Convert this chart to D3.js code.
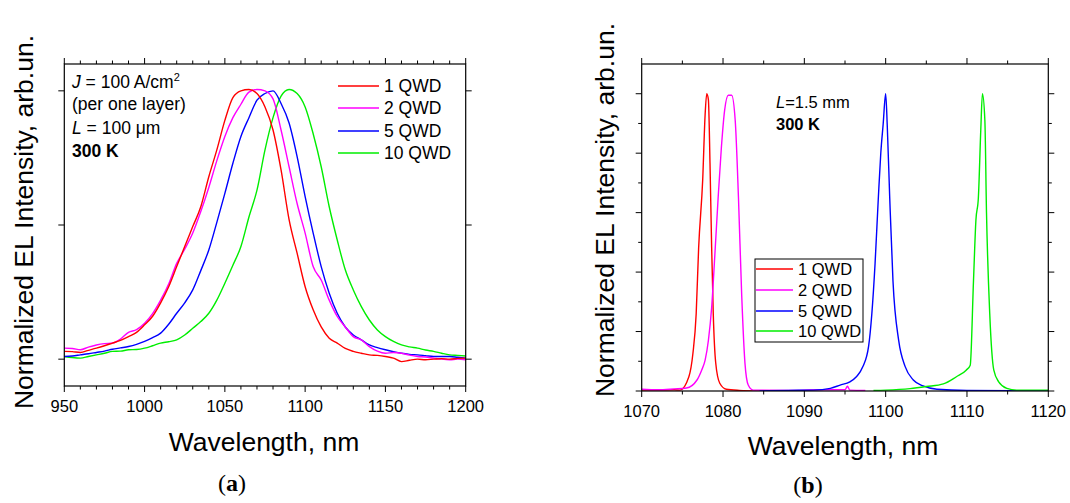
<!DOCTYPE html>
<html><head><meta charset="utf-8">
<script src="https://cdn.jsdelivr.net/npm/d3@7"></script>
<style>
body{margin:0;background:#fff;}
svg{display:block;font-family:"Liberation Sans",Arial,sans-serif;}
</style></head>
<body><svg id="c" width="1070" height="503"></svg>
<script>
// ---------- Panel (a) data (5 nm step) ----------
const aWl      = [950,955,960,965,970,975,980,985,990,995,1000,1005,1010,1015,1020,1025,1030,1035,1040,1045,1050,1055,1060,1065,1070,1075,1080,1085,1090,1095,1100,1105,1110,1115,1120,1125,1130,1135,1140,1145,1150,1155,1160,1165,1170,1175,1180,1185,1190,1195,1200];
const aRed     = [0.029,0.028,0.025,0.033,0.041,0.05,0.06,0.07,0.084,0.10,0.128,0.16,0.21,0.27,0.345,0.42,0.494,0.568,0.68,0.78,0.89,0.975,1.0,1.005,0.99,0.94,0.854,0.705,0.52,0.395,0.27,0.184,0.12,0.078,0.06,0.04,0.029,0.022,0.016,0.014,0.01,0.004,-0.009,-0.004,0.0,-0.002,0.0,0.002,0.0,0.003,0.004];
const aMagenta = [0.041,0.04,0.035,0.045,0.053,0.058,0.06,0.075,0.10,0.11,0.134,0.17,0.22,0.28,0.357,0.41,0.47,0.55,0.64,0.74,0.83,0.90,0.95,0.995,1.005,1.0,0.97,0.854,0.717,0.58,0.47,0.345,0.295,0.22,0.159,0.12,0.084,0.072,0.047,0.03,0.022,0.025,0.022,0.015,0.01,0.008,0.004,0.0,-0.002,0.0,-0.002];
const aBlue    = [0.01,0.012,0.016,0.02,0.025,0.03,0.037,0.042,0.047,0.055,0.066,0.08,0.097,0.13,0.171,0.21,0.258,0.33,0.407,0.51,0.618,0.73,0.83,0.90,0.965,0.99,1.0,0.953,0.88,0.755,0.606,0.47,0.345,0.246,0.171,0.12,0.09,0.072,0.053,0.043,0.035,0.028,0.022,0.018,0.016,0.013,0.01,0.01,0.01,0.007,0.004];
const aGreen   = [0.01,0.006,0.004,0.01,0.016,0.022,0.029,0.03,0.035,0.036,0.041,0.05,0.06,0.065,0.072,0.09,0.115,0.14,0.171,0.22,0.283,0.35,0.42,0.53,0.63,0.78,0.90,0.98,1.005,0.99,0.94,0.84,0.717,0.568,0.444,0.333,0.258,0.196,0.146,0.109,0.084,0.066,0.053,0.046,0.041,0.034,0.029,0.022,0.016,0.014,0.012];
const aXTicks = [950,1000,1050,1100,1150,1200];

// ---------- Panel (b) data ----------
const bRedWl  = [1070,1072,1074,1074.7,1075.8,1076.3,1076.7,1077.0,1077.5,1077.8,1078,1078.2,1078.4,1078.6,1078.8,1079.1,1079.6,1080.4,1082,1084.5];
const bRed    = [0.003,0.003,0.004,0.003,0.048,0.127,0.26,0.48,0.71,0.93,1.0,0.98,0.765,0.485,0.26,0.095,0.026,0.006,0.002,0.0];
const bMagWl  = [1070,1072,1074,1075.5,1076.8,1077.37,1077.8,1078.2,1078.6,1079.0,1079.4,1079.8,1080.2,1080.65,1081.06,1081.5,1081.9,1082.3,1082.7,1083.1,1083.7,1088,1092,1095,1095.3,1095.6,1097.5];
const bMag    = [0.006,0.004,0.007,0.01,0.037,0.07,0.104,0.17,0.28,0.46,0.65,0.82,0.945,0.995,0.995,0.91,0.65,0.32,0.093,0.02,0.003,0.002,0.004,0.004,0.016,0.003,0.002];
const bBlueWl = [1084.5,1088,1091.1,1093.2,1094.4,1095.6,1096.4,1097.2,1097.9,1098.3,1098.7,1099.1,1099.4,1099.7,1100,1100.2,1100.5,1100.9,1101.6,1102.4,1103.4,1104.6,1106.3,1110,1120];
const bBlue   = [0.0,0.002,0.003,0.009,0.02,0.031,0.048,0.082,0.15,0.26,0.43,0.65,0.80,0.90,1.0,0.89,0.65,0.37,0.17,0.082,0.037,0.017,0.006,0.002,0.001];
const bGreenWl= [1098.5,1100,1103,1105.0,1107.1,1108.7,1109.9,1110.4,1110.8,1111.1,1111.4,1111.7,1111.9,1112.2,1112.4,1112.8,1113.3,1113.9,1114.9,1116.1,1120];
const bGreen  = [0.002,0.003,0.008,0.015,0.024,0.048,0.07,0.087,0.37,0.575,0.65,0.88,1.0,0.91,0.6,0.26,0.07,0.031,0.009,0.003,0.003];
const bXTicks = [1070,1080,1090,1100,1110,1120];

const seriesNames = ["1 QWD","2 QWD","5 QWD","10 QWD"];
const colors = ["#ff0000","#ff00ff","#0000ff","#00ee00"];

const svg = d3.select("#c");

function frame(g, x, y, xMajor, xMinorStep, yMajor, yMinor){
  const [x0,x1] = x.range(), [y0,y1] = y.range();
  g.append("rect").attr("x",x0).attr("y",y1).attr("width",x1-x0).attr("height",y0-y1)
    .attr("fill","none").attr("stroke","#000").attr("stroke-width",1.2);
  const dom = x.domain();
  const minors = d3.range(dom[0], dom[1]+1e-9, xMinorStep);
  minors.forEach(v=>{
    const isMaj = xMajor.some(m=>Math.abs(m-v)<1e-6);
    const L = isMaj?6:3.5;
    g.append("line").attr("x1",x(v)).attr("x2",x(v)).attr("y1",y0).attr("y2",y0+L).attr("stroke","#000");
    g.append("line").attr("x1",x(v)).attr("x2",x(v)).attr("y1",y1).attr("y2",y1-L).attr("stroke","#000");
  });
  yMajor.forEach(v=>{
    g.append("line").attr("x1",x0).attr("x2",x0-6).attr("y1",y(v)).attr("y2",y(v)).attr("stroke","#000");
    g.append("line").attr("x1",x1).attr("x2",x1+6).attr("y1",y(v)).attr("y2",y(v)).attr("stroke","#000");
  });
  yMinor.forEach(v=>{
    g.append("line").attr("x1",x0).attr("x2",x0-3.5).attr("y1",y(v)).attr("y2",y(v)).attr("stroke","#000");
    g.append("line").attr("x1",x1).attr("x2",x1+3.5).attr("y1",y(v)).attr("y2",y(v)).attr("stroke","#000");
  });
  xMajor.forEach(v=>{
    g.append("text").attr("x",x(v)).attr("y",y0+26).attr("text-anchor","middle")
      .attr("font-size",16.5).text(v);
  });
}

function lineFor(x,y){ return d3.line().x(d=>x(d[0])).y(d=>y(d[1])).curve(d3.curveMonotoneX); }

// ---------- Panel (a) ----------
{
  const x = d3.scaleLinear().domain([950,1200]).range([64.3,465.7]);
  const y = d3.scaleLinear().domain([-0.1,1.1]).range([386,64]);
  const g = svg.append("g");
  svg.append("clipPath").attr("id","ca").append("rect")
    .attr("x",64.3).attr("y",64).attr("width",465.7-64.3).attr("height",386-64);
  const ln = lineFor(x,y);
  const sets = [aRed,aMagenta,aBlue,aGreen];
  [3,2,1,0].forEach(idx=>{
    g.append("path").attr("clip-path","url(#ca)").attr("d",ln(aWl.map((w,k)=>[w,sets[idx][k]])))
      .attr("fill","none").attr("stroke",colors[idx]).attr("stroke-width",1.4);
  });
  frame(g,x,y,aXTicks,10,[0,0.5,1],[]);
  g.append("text").attr("x",264).attr("y",451).attr("text-anchor","middle").attr("font-size",26.5).text("Wavelength, nm");
  g.append("text").attr("transform","translate(33,222) rotate(-90)").attr("text-anchor","middle").attr("font-size",26.5).text("Normalized EL Intensity, arb.un.");
  const t1 = g.append("text").attr("x",72).attr("y",88).attr("font-size",17.5);
  t1.append("tspan").attr("font-style","italic").text("J");
  t1.append("tspan").text(" = 100 A/cm");
  t1.append("tspan").attr("font-size",11).attr("dy",-7).text("2");
  g.append("text").attr("x",72).attr("y",110).attr("font-size",17.5).text("(per one layer)");
  const t3 = g.append("text").attr("x",72).attr("y",134).attr("font-size",17.5);
  t3.append("tspan").attr("font-style","italic").text("L");
  t3.append("tspan").text(" = 100 \u03bcm");
  g.append("text").attr("x",72).attr("y",157).attr("font-size",17.5).attr("font-weight","bold").text("300 K");
  const rows=[86,108,131,153];
  seriesNames.forEach((n,i)=>{
    g.append("line").attr("x1",338).attr("x2",379).attr("y1",rows[i]).attr("y2",rows[i]).attr("stroke",colors[i]).attr("stroke-width",1.5);
    g.append("text").attr("x",384).attr("y",rows[i]+6).attr("font-size",17.5).text(n);
  });
  g.append("text").attr("x",232).attr("y",491).attr("text-anchor","middle")
    .attr("font-family","'Liberation Serif','DejaVu Serif',serif").attr("font-size",24)
    .html('(<tspan font-weight="bold">a</tspan>)');
}

// ---------- Panel (b) ----------
{
  const x = d3.scaleLinear().domain([1070,1120]).range([641.7,1048.3]);
  const y = d3.scaleLinear().domain([0,1.1]).range([391,64]);
  const g = svg.append("g");
  svg.append("clipPath").attr("id","cb").append("rect")
    .attr("x",641.7).attr("y",64).attr("width",1048.3-641.7).attr("height",391-64);
  const ln = lineFor(x,y);
  const sets = [[bRedWl,bRed],[bMagWl,bMag],[bBlueWl,bBlue],[bGreenWl,bGreen]];
  sets.forEach((s,i)=>{
    g.append("path").attr("clip-path","url(#cb)").attr("d",ln(s[0].map((w,k)=>[w,s[1][k]])))
      .attr("fill","none").attr("stroke",colors[i]).attr("stroke-width",1.4);
  });
  frame(g,x,y,bXTicks,5,[0,0.2,0.4,0.6,0.8,1.0],[0.1,0.3,0.5,0.7,0.9]);
  g.append("text").attr("x",843).attr("y",455).attr("text-anchor","middle").attr("font-size",26.5).text("Wavelength, nm");
  g.append("text").attr("transform","translate(614,210) rotate(-90)").attr("text-anchor","middle").attr("font-size",26.5).text("Normalized EL Intensity, arb.un.");
  const t1 = g.append("text").attr("x",776).attr("y",108).attr("font-size",16.5);
  t1.append("tspan").attr("font-style","italic").text("L");
  t1.append("tspan").text("=1.5 mm");
  g.append("text").attr("x",776).attr("y",130).attr("font-size",16.5).attr("font-weight","bold").text("300 K");
  g.append("rect").attr("x",755).attr("y",259).attr("width",108).attr("height",83)
    .attr("fill","#fff").attr("stroke","#000").attr("stroke-width",1);
  const rows=[269,290,311,331];
  seriesNames.forEach((n,i)=>{
    g.append("line").attr("x1",756).attr("x2",793).attr("y1",rows[i]).attr("y2",rows[i]).attr("stroke",colors[i]).attr("stroke-width",1.5);
    g.append("text").attr("x",798).attr("y",rows[i]+6).attr("font-size",16.5).text(n);
  });
  g.append("text").attr("x",808).attr("y",493).attr("text-anchor","middle")
    .attr("font-family","'Liberation Serif','DejaVu Serif',serif").attr("font-size",24)
    .html('(<tspan font-weight="bold">b</tspan>)');
}
</script></body></html>
